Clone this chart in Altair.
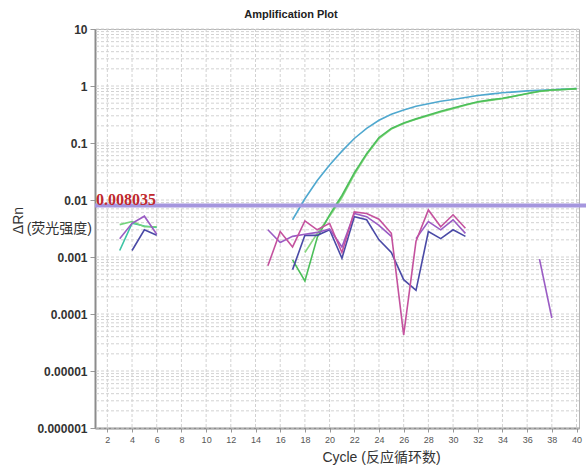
import altair as alt
import pandas as pd

# ---- data ----
CYCLES_CYAN = list(range(17, 41))
CYAN = [0.0045, 0.0105, 0.022, 0.041, 0.072, 0.12, 0.18, 0.25, 0.32, 0.38, 0.44, 0.49,
        0.54, 0.58, 0.63, 0.68, 0.72, 0.76, 0.79, 0.82, 0.84, 0.86, 0.88, 0.90]

CYCLES_GREEN_A = list(range(17, 41))
GREEN_A = [0.00089, 0.00038, 0.0022, 0.0055, 0.012, 0.030, 0.065, 0.125, 0.18, 0.225, 0.265, 0.31,
           0.36, 0.41, 0.47, 0.53, 0.57, 0.61, 0.67, 0.74, 0.81, 0.85, 0.87, 0.90]

CYCLES_GREEN_B = list(range(18, 41))
GREEN_B = [0.0012, 0.0026, 0.0052, 0.011, 0.028, 0.062, 0.12, 0.175, 0.22, 0.26, 0.30, 0.35,
           0.40, 0.46, 0.52, 0.56, 0.60, 0.66, 0.73, 0.80, 0.84, 0.87, 0.89]

CYCLES_MAGENTA = list(range(15, 32))
MAGENTA = [0.0007, 0.0028, 0.0015, 0.0043, 0.0030, 0.0039, 0.0012, 0.0062, 0.0058, 0.0046,
           0.0026, 0.000043, 0.0019, 0.0067, 0.0034, 0.0055, 0.0032]

CYCLES_PURPLE_1 = [3, 4, 5, 6]
PURPLE_1 = [0.0021, 0.0039, 0.0052, 0.0025]
CYCLES_PURPLE_2 = list(range(15, 26))
PURPLE_2 = [0.0030, 0.0018, 0.0023, 0.0025, 0.0027, 0.0031, 0.0015, 0.0058, 0.0051, 0.0036, 0.0023]
CYCLES_PURPLE_3 = list(range(27, 32))
PURPLE_3 = [0.0021, 0.0042, 0.0030, 0.0045, 0.0026]
CYCLES_PURPLE_4 = [37, 38]
PURPLE_4 = [0.00092, 0.000085]

CYCLES_DARKBLUE_1 = [4, 5, 6]
DARKBLUE_1 = [0.0013, 0.0030, 0.0024]
CYCLES_DARKBLUE_2 = list(range(17, 32))
DARKBLUE_2 = [0.0006, 0.0024, 0.0024, 0.0030, 0.00095, 0.0051, 0.0045, 0.0020, 0.0012,
              0.0004, 0.00026, 0.0028, 0.0021, 0.0030, 0.0023]

CYCLES_TEAL = [3, 4, 5, 6]
TEAL = [0.0013, 0.0039, 0.0035, 0.0033]
CYCLES_LIGHTGREEN = [3, 4, 5, 6]
LIGHTGREEN = [0.0037, 0.0042, 0.0034, 0.0034]

THRESHOLD = 0.008035
THRESHOLD_LABEL = "0.008035"

X_TICKS = list(range(2, 41, 2))
Y_TICKS = [10, 1, 0.1, 0.01, 0.001, 0.0001, 0.00001, 0.000001]
MINOR_STEPS = [1, 2, 3, 4, 5, 6, 7, 8, 9]
GRID_Y = [m * d for d in Y_TICKS[1:] for m in MINOR_STEPS] + [10]
GRID_X = X_TICKS

SERIES_NAMES = ["cyan", "greenB", "greenA", "teal", "lightgreen", "darkblue", "purple", "magenta"]
SERIES_COLORS = ["#4fa8cf", "#86d67e", "#4cbf5a", "#3cc4a4", "#74d27c", "#4a4aa6", "#9a5cc4", "#c4529e"]

segments = [
    ("cyan", CYCLES_CYAN, CYAN),
    ("greenB", CYCLES_GREEN_B, GREEN_B),
    ("greenA", CYCLES_GREEN_A, GREEN_A),
    ("teal", CYCLES_TEAL, TEAL),
    ("lightgreen", CYCLES_LIGHTGREEN, LIGHTGREEN),
    ("darkblue", CYCLES_DARKBLUE_1, DARKBLUE_1),
    ("darkblue", CYCLES_DARKBLUE_2, DARKBLUE_2),
    ("purple", CYCLES_PURPLE_1, PURPLE_1),
    ("purple", CYCLES_PURPLE_2, PURPLE_2),
    ("purple", CYCLES_PURPLE_3, PURPLE_3),
    ("purple", CYCLES_PURPLE_4, PURPLE_4),
    ("magenta", CYCLES_MAGENTA, MAGENTA),
]

rows = []
for i, (name, cyc, vals) in enumerate(segments):
    for c, v in zip(cyc, vals):
        rows.append({"series": name, "seg": i, "cycle": c, "value": v})
df = pd.DataFrame(rows)

FONT = "Liberation Sans, Noto Sans CJK SC"

x_scale = alt.Scale(domain=[1, 40.2], nice=False, zero=False)
y_scale = alt.Scale(type="log", domain=[0.000001, 10], nice=False)

x_axis = alt.Axis(values=X_TICKS, title="Cycle (反应循环数)", titleFont=FONT,
                  titleFontSize=14, titleFontWeight="normal", titleColor="#333",
                  titleX=286, titleY=33, titleBaseline="alphabetic",
                  labelFontSize=9, labelColor="#555", labelFont="Liberation Sans",
                  tickSize=4, tickColor="#999", domainColor="#8c8c8c", domainWidth=2,
                  grid=False, labelPadding=3, labelFlush=False)
y_axis = alt.Axis(values=Y_TICKS, format="~f", labelFontSize=12, labelFontWeight="bold",
                  labelColor="#333", labelFont="Liberation Sans", tickSize=5,
                  tickColor="#999", domainColor="#8c8c8c", domainWidth=2, grid=False,
                  labelPadding=3, labelFlush=False, title="ΔRn", titleFont=FONT,
                  titleFontSize=14, titleFontWeight="normal", titleColor="#333",
                  titleX=-77, titleY=191, titleAngle=270, titleAlign="center",
                  titleBaseline="middle")

grid_h = alt.Chart(pd.DataFrame({"gy": GRID_Y})).mark_rule(
    color="#d2d2d2", strokeDash=[3, 2], strokeWidth=1
).encode(y=alt.Y("gy:Q", scale=y_scale, axis=y_axis))

grid_v = alt.Chart(pd.DataFrame({"gx": GRID_X})).mark_rule(
    color="#d2d2d2", strokeDash=[3, 2], strokeWidth=1
).encode(x=alt.X("gx:Q", scale=x_scale, axis=x_axis))

lines = alt.Chart(df).mark_line(strokeWidth=1.6, clip=True).encode(
    x=alt.X("cycle:Q", scale=x_scale, axis=x_axis),
    y=alt.Y("value:Q", scale=y_scale, axis=y_axis),
    color=alt.Color("series:N", scale=alt.Scale(domain=SERIES_NAMES, range=SERIES_COLORS), legend=None),
    detail="seg:N",
    order="cycle:Q",
)

thr_df = pd.DataFrame({"t": [THRESHOLD], "label": [THRESHOLD_LABEL]})
thr_line = alt.Chart(thr_df).mark_rule(color="#a596de", strokeWidth=4).encode(
    y=alt.Y("t:Q", scale=y_scale, axis=y_axis), x=alt.value(0), x2=alt.value(491)
)
thr_text = alt.Chart(thr_df).mark_text(
    align="left", baseline="alphabetic", font="Liberation Serif", fontWeight="bold",
    fontSize=16, color="#c0282d", dx=1
).encode(y=alt.Y("t:Q", scale=y_scale, axis=y_axis), x=alt.value(0), text="label:N")

ysub = alt.Chart(pd.DataFrame({"txt": ["(荧光强度)"]})).mark_text(
    align="right", baseline="middle", fontSize=14, font=FONT, color="#333"
).encode(x=alt.value(-3), y=alt.value(200), text="txt:N")

chart = alt.layer(grid_h, grid_v, lines, thr_line, thr_text, ysub).properties(
    width=484, height=399,
    autosize=alt.AutoSizeParams(type="none"),
    padding={"left": 95, "top": 29, "right": 7, "bottom": 41},
    title=alt.TitleParams("Amplification Plot", fontSize=11, fontWeight="bold",
                          font="Liberation Sans", color="#222", anchor="middle", dx=-46, offset=3),
    background="white",
).configure_view(stroke="#b5b5b5", strokeWidth=1)

chart.save("out.html", embed_options={"renderer": "svg", "actions": False})
